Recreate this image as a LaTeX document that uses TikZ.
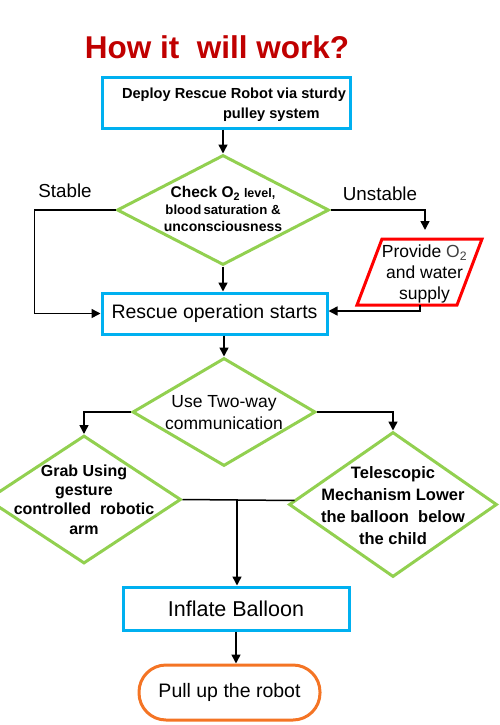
\documentclass[tikz,border=0pt]{standalone}
\usepackage{fontspec}
\setmainfont{Liberation Sans}
\usetikzlibrary{arrows.meta,shapes.geometric,calc}
\definecolor{cblue}{HTML}{00B0F0}
\definecolor{cgreen}{HTML}{92D050}
\definecolor{cred}{HTML}{FF0000}
\definecolor{corange}{HTML}{F47424}
\definecolor{ctitle}{HTML}{C00000}
\newcommand{\fs}[1]{\fontsize{#1}{\fpeval{#1*1.2}}\selectfont}
\begin{document}
\begin{tikzpicture}[x=1pt,y=-1pt,
  box/.style={draw=cblue,line width=3pt,rectangle,inner sep=0pt},
  dia/.style={draw=cgreen,line width=3pt,diamond,inner sep=0pt},
  arr/.style={line width=1.5pt,-{Triangle[length=9pt,width=9pt]}},
  ln/.style={line width=1.5pt},
  lbl/.style={align=center,inner sep=0pt}]
\useasboundingbox (0,0) rectangle (499,725);
\clip (0,0) rectangle (499,725);

\node[text=ctitle,font=\fs{31.5}\bfseries] (title) at (217,47) {How it\ \ will work?};

\node[box,minimum width=248,minimum height=51,
  label={[lbl,align=left,xshift=8pt,font=\fs{14.6}\bfseries,yshift=-2pt]center:{Deploy Rescue Robot via sturdy\\[3pt]\hspace*{101pt}pulley system}}] (b1) at (226,102.5) {};

\node[dia,minimum width=212,minimum height=110,
  label={[lbl,font=\fs{14}\bfseries,yshift=1pt]center:{{\fs{15.5}Check O\textsubscript{2}} {\fs{12.5}level,}\\{\fs{13.2}blood\,saturation \&}\\{\fs{14}unconsciousness}}}] (d1) at (223,210) {};

\node[minimum width=100,minimum height=66,inner sep=0pt,align=center,font=\fs{17.5}] (p) at (424.5,274)
  {Provide {\color{darkgray}O\textsubscript{2}}\\and water\\supply};
\draw[cred,line width=3pt] ($(p.center)+(-67.5,31)$) -- ($(p.center)+(-42.5,-35)$)
  -- ($(p.center)+(57.5,-35)$) -- ($(p.center)+(32.5,31)$) -- cycle;

\node[box,minimum width=225,minimum height=41,font=\fs{19.5}] (b2) at (214.5,313.5) {Rescue operation starts};

\node[dia,minimum width=183,minimum height=108,
  label={[lbl,font=\fs{17.5},yshift=-1pt]center:{Use Two-way\\[1pt]communication}}] (d2) at (224,412) {};

\node[dia,minimum width=194,minimum height=128,
  label={[lbl,font=\fs{16}\bfseries]center:{Grab Using\\gesture\\controlled\ \ robotic\\arm}}] (d3) at (84,499.5) {};

\node[dia,minimum width=208,minimum height=145,
  label={[lbl,font=\fs{16.5}\bfseries,yshift=-1pt]center:{Telescopic\\[2pt]Mechanism Lower\\[2pt]the balloon\ \ below\\[2pt]the child}}] (d4) at (393,504.5) {};

\node[box,minimum width=226,minimum height=43,font=\fs{21.5}] (b3) at (236,608.5) {Inflate Balloon};

\node[draw=corange,line width=3pt,rectangle,rounded corners=27pt,minimum width=181,minimum height=55,inner sep=0pt,font=\fs{19.5}] (t) at (229.5,692.5) {Pull up the robot};

\node[font=\fs{18.8}] (stable) at (65,191) {Stable};
\node[font=\fs{18.8}] (unstable) at (380,194) {Unstable};

\coordinate (pin) at (425,230);
\coordinate (pout) at (420,305);
\coordinate (j) at (237,500);

\draw[arr] (b1.south -| d1.north) -- (d1.north);
\draw[arr] (d1.south) -- (d1.south |- b2.north);
\draw[arr] (d1.west) -- ++(-81,0) |- (b2.west);
\draw[arr] (d1.east) -| (pin);
\draw[arr] (pout) |- ([yshift=2.5pt]b2.east);
\draw[arr] (b2.south -| d2.north) -- (d2.north);
\draw[arr] (d2.west) -| (d3.north);
\draw[arr] (d2.east) -| (d4.north);
\draw[ln] (d3.east) -- ($(d4.west)+(7,-4)$);
\draw[arr] (j) -- (j |- b3.north);
\draw[arr] (b3.south) -- (b3.south |- t.north);
\end{tikzpicture}
\end{document}
